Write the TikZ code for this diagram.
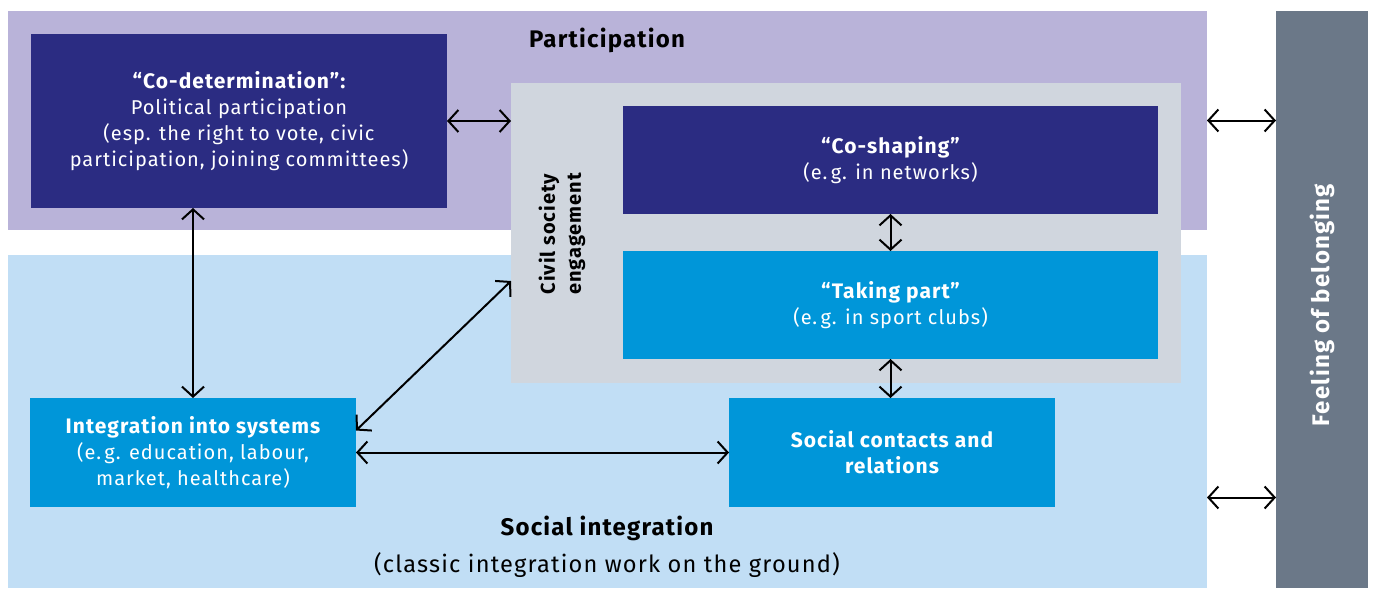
\documentclass[tikz,border=0pt]{standalone}
\usepackage{fontspec}
\setmainfont{Fira Sans}[LetterSpace=5]
\usetikzlibrary{arrows.meta}

\definecolor{lavender}{RGB}{185,179,217}
\definecolor{skyband}{RGB}{193,222,245}
\definecolor{navy}{RGB}{43,44,130}
\definecolor{boschblue}{RGB}{0,150,217}
\definecolor{civilgrey}{RGB}{208,214,222}
\definecolor{slate}{RGB}{107,120,136}

\newcommand{\boxhead}[1]{{\fontsize{10.5}{13}\bfseries #1}}

\begin{document}
\begin{tikzpicture}[x=0.5pt,y=-0.5pt,
    area/.style={inner sep=0pt, outer sep=0pt},
    box/.style={area, text=white, align=center, font=\fontsize{10}{13}\selectfont},
    link/.style={line width=1pt, {Straight Barb[length=5pt,width=11pt]}-{Straight Barb[length=5pt,width=11pt]}}]
\useasboundingbox (0,0) rectangle (1375,589);

% background bands
\node[area, fill=lavender, minimum width=599.5pt, minimum height=109.5pt] (part) at (607.5,120.5) {};
\node[area, fill=skyband, minimum width=599.5pt, minimum height=166.5pt] (social) at (607.5,421.5) {};
\node[area, fill=slate, minimum width=46pt, minimum height=288.5pt] (feel) at (1322,299.5) {};
\node[area, fill=civilgrey, minimum width=335pt, minimum height=150pt] (civil) at (846,233) {};

% band titles
\node[font=\fontsize{12}{13}\bfseries] (parttitle) at (607,40) {Participation};
\node[font=\fontsize{12}{13}\bfseries] (socialtitle) at (607,528) {Social integration};
\node[font=\fontsize{11.8}{13}\selectfont] (socialsub) at (607,565) {(classic integration work on the ground)};
\node[rotate=90, text=white, font=\fontsize{12}{13}\bfseries] (feeltext) at (1322,305) {Feeling of belonging};
\node[rotate=90, align=center, font=\fontsize{10}{13}\bfseries] (civiltext) at (562,234) {Civil society\\engagement};

% boxes
\node[box, fill=navy, minimum width=208pt, minimum height=87pt] (codet) at (239,121)
  {\boxhead{“Co-determination”:}\\Political participation\\(esp. the right to vote, civic\\participation, joining committees)};
\node[box, fill=navy, minimum width=267.5pt, minimum height=54pt] (coshape) at (890.5,160)
  {\boxhead{“Co-shaping”}\\(e.\,g. in networks)};
\node[box, fill=boschblue, minimum width=267.5pt, minimum height=54pt] (taking) at (890.5,305)
  {\boxhead{“Taking part”}\\(e.\,g. in sport clubs)};
\node[box, fill=boschblue, minimum width=163pt, minimum height=54.5pt] (integ) at (193,452.5)
  {\boxhead{Integration into systems}\\(e.\,g. education, labour,\\market, healthcare)};
\node[box, fill=boschblue, minimum width=163pt, minimum height=54.5pt] (contacts) at (892,452.5)
  {\boxhead{Social contacts and}\\\boxhead{relations}};

% connectors
\draw[link] (codet.east) -- (codet.east -| civil.west);
\draw[link] (integ.north |- codet.south) -- (integ.north);
\draw[link] ([yshift=11pt]integ.east) -- ([yshift=-24pt]civil.west);
\draw[link] (integ.east) -- (contacts.west);
\draw[link] (coshape.south) -- (taking.north);
\draw[link] (taking.south) -- (taking.south |- contacts.north);
\draw[link] (part.east) -- (part.east -| feel.west);
\draw[link] ([yshift=-38pt]social.east) -- ([yshift=-38pt]social.east -| feel.west);

\end{tikzpicture}
\end{document}
